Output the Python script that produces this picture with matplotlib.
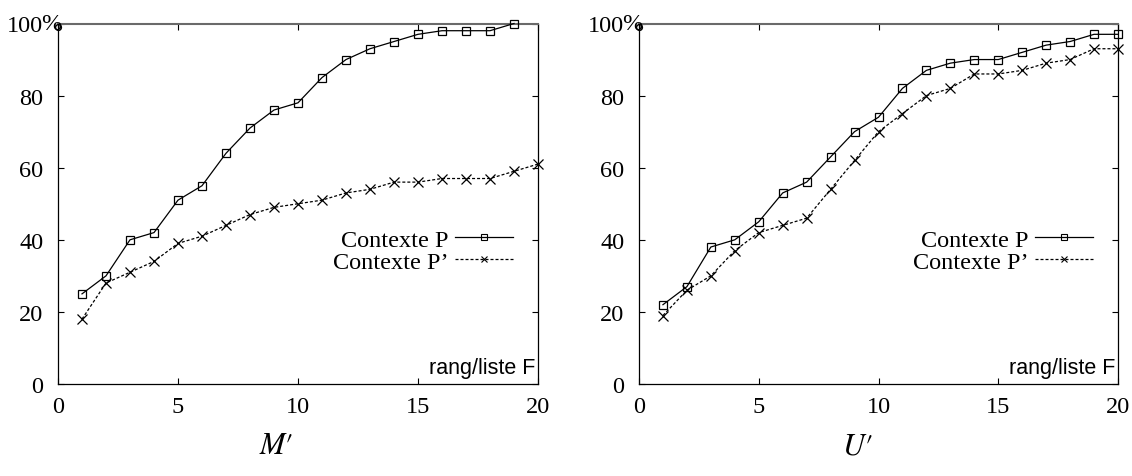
import matplotlib
matplotlib.use("Agg")
import matplotlib.pyplot as plt
from matplotlib.lines import Line2D

plt.rcParams['mathtext.fontset'] = 'stix'

x_left_P = list(range(1, 20))
left_P = [25, 30, 40, 42, 51, 55, 64, 71, 76, 78, 85, 90, 93, 95, 97, 98, 98, 98, 100]
x_left_Pp = list(range(1, 21))
left_Pp = [18, 28, 31, 34, 39, 41, 44, 47, 49, 50, 51, 53, 54, 56, 56, 57, 57, 57, 59, 61]

x_right = list(range(1, 21))
right_P = [22, 27, 38, 40, 45, 53, 56, 63, 70, 74, 82, 87, 89, 90, 90, 92, 94, 95, 97, 97]
right_Pp = [19, 26, 30, 37, 42, 44, 46, 54, 62, 70, 75, 80, 82, 86, 86, 87, 89, 90, 93, 93]

xticks = [0, 5, 10, 15, 20]
yticks = [0, 20, 40, 60, 80, 100]
ytick_labels = ['0', '20', '40', '60', '80', '100']
percent_sign = '%'
legend_labels = ['Contexte P', "Contexte P\u2019"]
xlabel_text = 'rang/liste F'
panel_titles = [r'$M\prime$', r'$U\prime$']

W, H = 1132, 477
fig = plt.figure(figsize=(W / 100, H / 100), dpi=100)

serif = 'Liberation Serif'
sans = 'Liberation Sans'
fs = 17.5

axes_rects = [
    [58 / W, (H - 385) / H, 480 / W, 360.5 / H],
    [639 / W, (H - 385) / H, 479 / W, 360.5 / H],
]
data = [
    (x_left_P, left_P, x_left_Pp, left_Pp),
    (x_right, right_P, x_right, right_Pp),
]

dash = (0, (2.4, 1.6))
for rect, (xp, yp, xq, yq), title in zip(axes_rects, data, panel_titles):
    ax = fig.add_axes(rect)
    ax.plot(xp, yp, color='black', lw=0.9, marker='s', markersize=6.2,
            markerfacecolor='none', markeredgewidth=0.9, clip_on=False, zorder=3)
    ax.plot(xq, yq, color='black', lw=0.9, ls=dash, marker='x', markersize=6.5,
            markeredgewidth=0.9, clip_on=False, zorder=3)
    ax.set_xlim(0, 20)
    ax.set_ylim(0, 100)
    ax.set_xticks(xticks)
    ax.set_yticks(yticks)
    ax.set_yticklabels(ytick_labels)
    ax.tick_params(direction='in', top=True, right=True, length=4.5, width=0.8,
                   labelsize=fs)
    ax.tick_params(axis='x', pad=9)
    ax.tick_params(axis='y', pad=10.5)
    for lab in ax.get_xticklabels() + ax.get_yticklabels():
        lab.set_fontfamily(serif)
    for sp in ax.spines.values():
        sp.set_linewidth(0.9)
    ax.spines['top'].set_color('#6a6a6a')
    ax.spines['top'].set_linewidth(1.5)
    ax.annotate(percent_sign, xy=(0, 100), xycoords='data', xytext=(-11.8, 0),
                textcoords='offset points', ha='left', va='center',
                fontsize=fs, fontfamily=serif, annotation_clip=False)
    ax.plot([0], [99], marker='o', markersize=4.2, markerfacecolor='none',
            markeredgecolor='black', markeredgewidth=1.0, clip_on=False, zorder=4)
    handles = [
        Line2D([], [], color='black', lw=0.9, marker='s', markersize=5,
               markerfacecolor='none', markeredgewidth=0.8),
        Line2D([], [], color='black', lw=0.9, ls=dash, marker='x', markersize=5,
               markeredgewidth=0.8),
    ]
    ax.legend(handles, legend_labels, loc='center right', bbox_to_anchor=(0.948, 0.369),
              frameon=False, markerfirst=False, handlelength=2.4, handletextpad=0.25,
              labelspacing=0.0, borderpad=0.0, borderaxespad=0.0, numpoints=1,
              prop={'family': serif, 'size': fs})
    ax.text(0.994, 0.018, xlabel_text, transform=ax.transAxes, ha='right', va='bottom',
            fontsize=15.5, fontfamily=sans, zorder=5)
    ax.text(0.455, -0.168, title, transform=ax.transAxes, ha='center', va='center',
            fontsize=22)

fig.savefig('out.png', dpi=100)
